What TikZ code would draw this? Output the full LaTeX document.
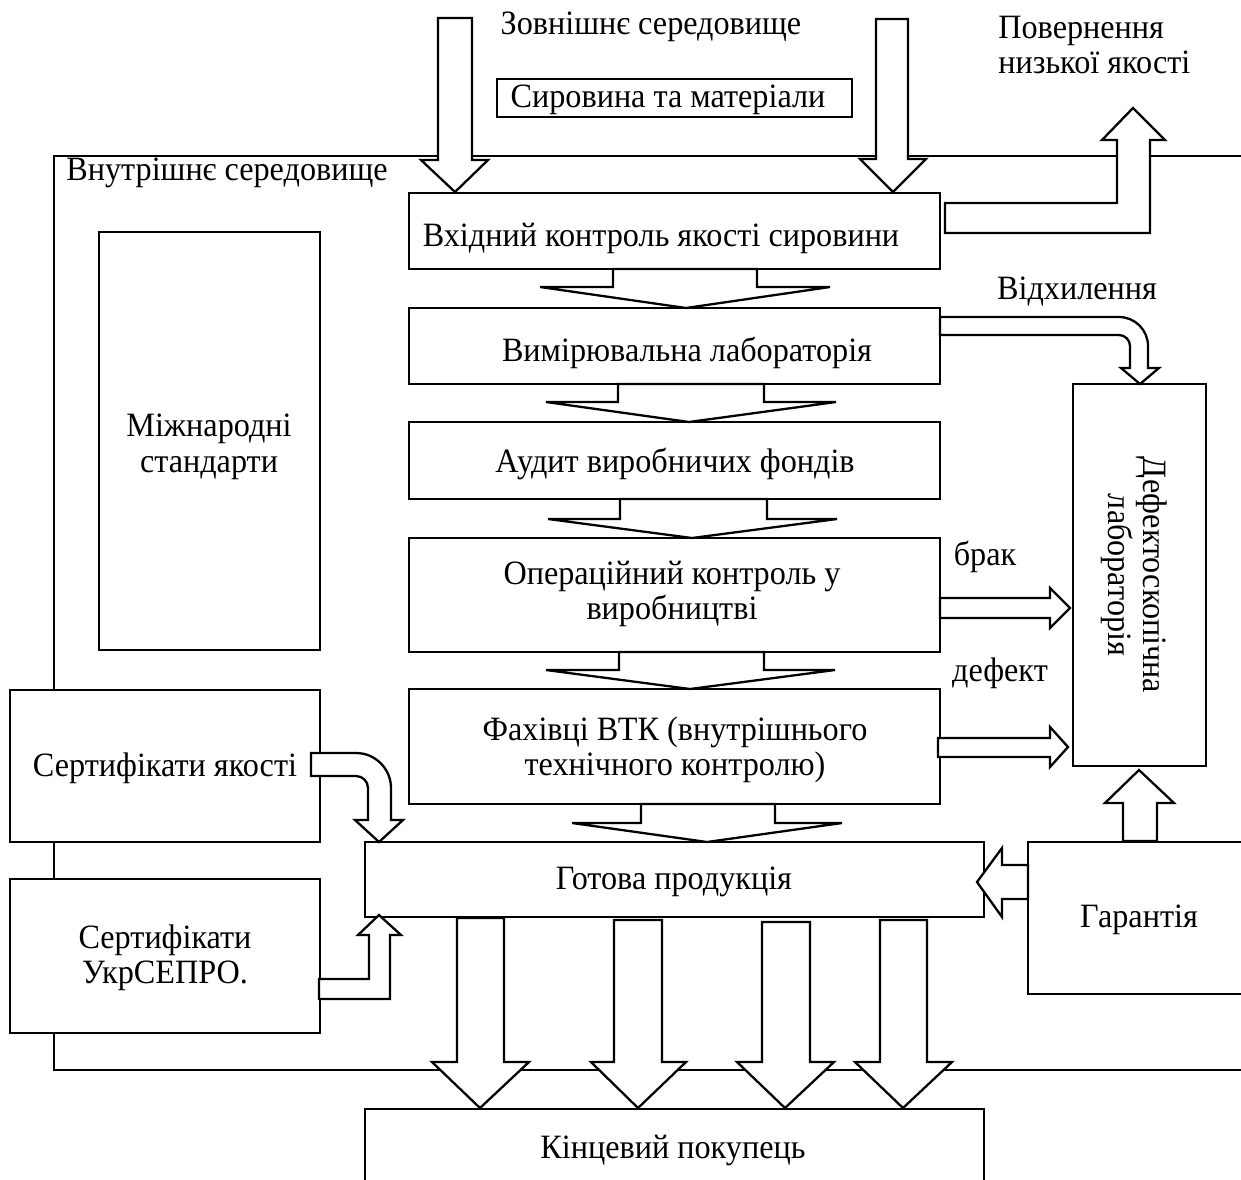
\documentclass[tikz,border=0pt]{standalone}
\usepackage{fontspec}
\setmainfont{Liberation Serif}[FakeStretch=0.945]
\newcommand{\mybox}[5]{\node[boxst, minimum width={(#4-#2)*0.02cm}, minimum height={(#5-#3)*0.02cm}] (#1) at ({(#2+#4)/2},{(#3+#5)/2}) {};}
% chevron: shaft left, shaft right, top y, wing y, wing left, wing right, tip x, tip y
\newcommand{\chev}[8]{\draw[arr] (#1,#3) -- (#2,#3) -- (#2,#4) -- (#6,#4) -- (#7,#8) -- (#5,#4) -- (#1,#4) -- cycle;}
\begin{document}
\begin{tikzpicture}[x=0.02cm,y=-0.02cm,
  boxst/.style={draw, fill=white, line width=1.3pt, inner sep=0pt, outer sep=0pt},
  arr/.style={draw, fill=white, line width=1.3pt, line join=miter},
  lbl/.style={font=\fontsize{19.4}{20.2}\selectfont, inner sep=0pt, align=center},
  framest/.style={draw, line width=1.3pt}]
\useasboundingbox (0,0) rectangle (1241,1180);

% internal environment frame
\draw[framest] (1260,156) -- (54,156) -- (54,1070) -- (1260,1070);

% boxes
\mybox{raw}{497}{79}{852}{117}
\mybox{b1}{409}{193}{940}{269}
\mybox{b2}{409}{308}{940}{384}
\mybox{b3}{409}{422}{940}{499}
\mybox{b4}{409}{538}{940}{652}
\mybox{b5}{409}{689}{940}{804}
\mybox{b6}{365}{842}{984}{917}
\mybox{buyer}{365}{1109}{984}{1210}
\mybox{intl}{99}{232}{320}{650}
\mybox{certq}{10}{690}{320}{842}
\mybox{certu}{10}{879}{320}{1033}
\mybox{defl}{1073}{384}{1206}{766}
\mybox{guar}{1028}{842}{1270}{994}

% top inflow arrows
\draw[arr] (438,18) -- (472,18) -- (472,160) -- (488,160) -- (455,192) -- (421,160) -- (438,160) -- cycle;
\draw[arr] (876,19) -- (908,19) -- (908,159) -- (926,159) -- (893,192) -- (860,159) -- (876,159) -- cycle;

% return of low quality
\draw[arr] (945,203) -- (1117,203) -- (1117,140) -- (1102,140) -- (1133,108) -- (1165,140) -- (1150,140) -- (1150,233) -- (945,233) -- cycle;

% deviation curved arrow
\draw[arr] (940,317) -- (1119,317) .. controls (1135,317) and (1148,330) .. (1148,346) -- (1148,368) -- (1159,368) -- (1140,384) -- (1121,368) -- (1130,368) -- (1130,346) .. controls (1130,340) and (1125,335) .. (1119,335) -- (940,335) -- cycle;

% chevrons between central boxes
\chev{613}{757}{269}{287}{540}{830}{686}{308}
\chev{618}{764}{384}{402}{546}{836}{689}{422}
\chev{620}{767}{499}{519}{548}{837}{692}{538}
\chev{619}{764}{652}{670}{546}{835}{690}{689}
\chev{641}{775}{804}{823}{572}{842}{707}{842}

% брак / дефект arrows
\draw[arr] (940,598) -- (1050,598) -- (1050,588) -- (1070,608) -- (1050,628) -- (1050,618) -- (940,618) -- cycle;
\draw[arr] (938,738) -- (1050,738) -- (1050,727) -- (1068,747) -- (1050,767) -- (1050,757) -- (938,757) -- cycle;

% guarantee arrows
\draw[arr] (1123,841) -- (1123,803) -- (1105,803) -- (1139,770) -- (1174,803) -- (1157,803) -- (1157,841) -- cycle;
\draw[arr] (1028,865) -- (1002,865) -- (1002,848) -- (977,882) -- (1002,917) -- (1002,899) -- (1028,899) -- cycle;

% certificates arrows
\draw[arr] (311,753) -- (356,753) .. controls (375.3,753) and (391,768.7) .. (391,788) -- (391,820) -- (403,820) -- (379,842) -- (355,820) -- (368,820) -- (368,788) .. controls (368,781.4) and (362.6,776) .. (356,776) -- (311,776) -- cycle;
\draw[arr] (319,979) -- (369,979) -- (369,935) -- (358,935) -- (379,915) -- (401,935) -- (390,935) -- (390,999) -- (319,999) -- cycle;

% outflow arrows to the final buyer
\draw[arr] (457,918) -- (504,918) -- (504,1062) -- (529,1062) -- (480,1108) -- (432,1062) -- (457,1062) -- cycle;
\draw[arr] (614,920) -- (662,920) -- (662,1062) -- (686,1062) -- (638,1108) -- (591,1062) -- (614,1062) -- cycle;
\draw[arr] (762,922) -- (810,922) -- (810,1062) -- (834,1062) -- (785,1108) -- (737,1062) -- (762,1062) -- cycle;
\draw[arr] (880,920) -- (927,920) -- (927,1062) -- (952,1062) -- (903,1108) -- (855,1062) -- (880,1062) -- cycle;

% texts
\node[lbl] (tout) at (651,27) {Зовнішнє середовище};
\node[lbl] (traw) at (668,100) {Сировина та матеріали};
\node[lbl, align=left, anchor=west] (tret) at (998,45) {Повернення\\низької якості};
\node[lbl] (tin) at (227,173) {Внутрішнє середовище};
\node[lbl] (t1) at (661,238) {Вхідний контроль якості сировини};
\node[lbl] (tdev) at (1077,292) {Відхилення};
\node[lbl] (t2) at (687,353) {Вимірювальна лабораторія};
\node[lbl] (t3) at (675,464) {Аудит виробничих фондів};
\node[lbl] (t4) at (672,594) {Операційний контроль у\\виробництві};
\node[lbl] (tbrak) at (985,557) {брак};
\node[lbl] (tdef) at (1000,673) {дефект};
\node[lbl] (t5) at (675,750) {Фахівці ВТК (внутрішнього\\технічного контролю)};
\node[lbl] (t6) at (674,882) {Готова продукція};
\node[lbl] (tbuy) at (673,1150) {Кінцевий покупець};
\node[lbl] (tintl) at (209,447) {Міжнародні\\стандарти};
\node[lbl] (tcq) at (165,768) {Сертифікати якості};
\node[lbl] (tcu) at (165,958) {Сертифікати\\УкрСЕПРО.};
\node[lbl] (tg) at (1139,920) {Гарантія};
\node[lbl, rotate=-90] (tdl) at (1134,575) {Дефектоскопічна\\лабораторія};
\end{tikzpicture}
\end{document}
